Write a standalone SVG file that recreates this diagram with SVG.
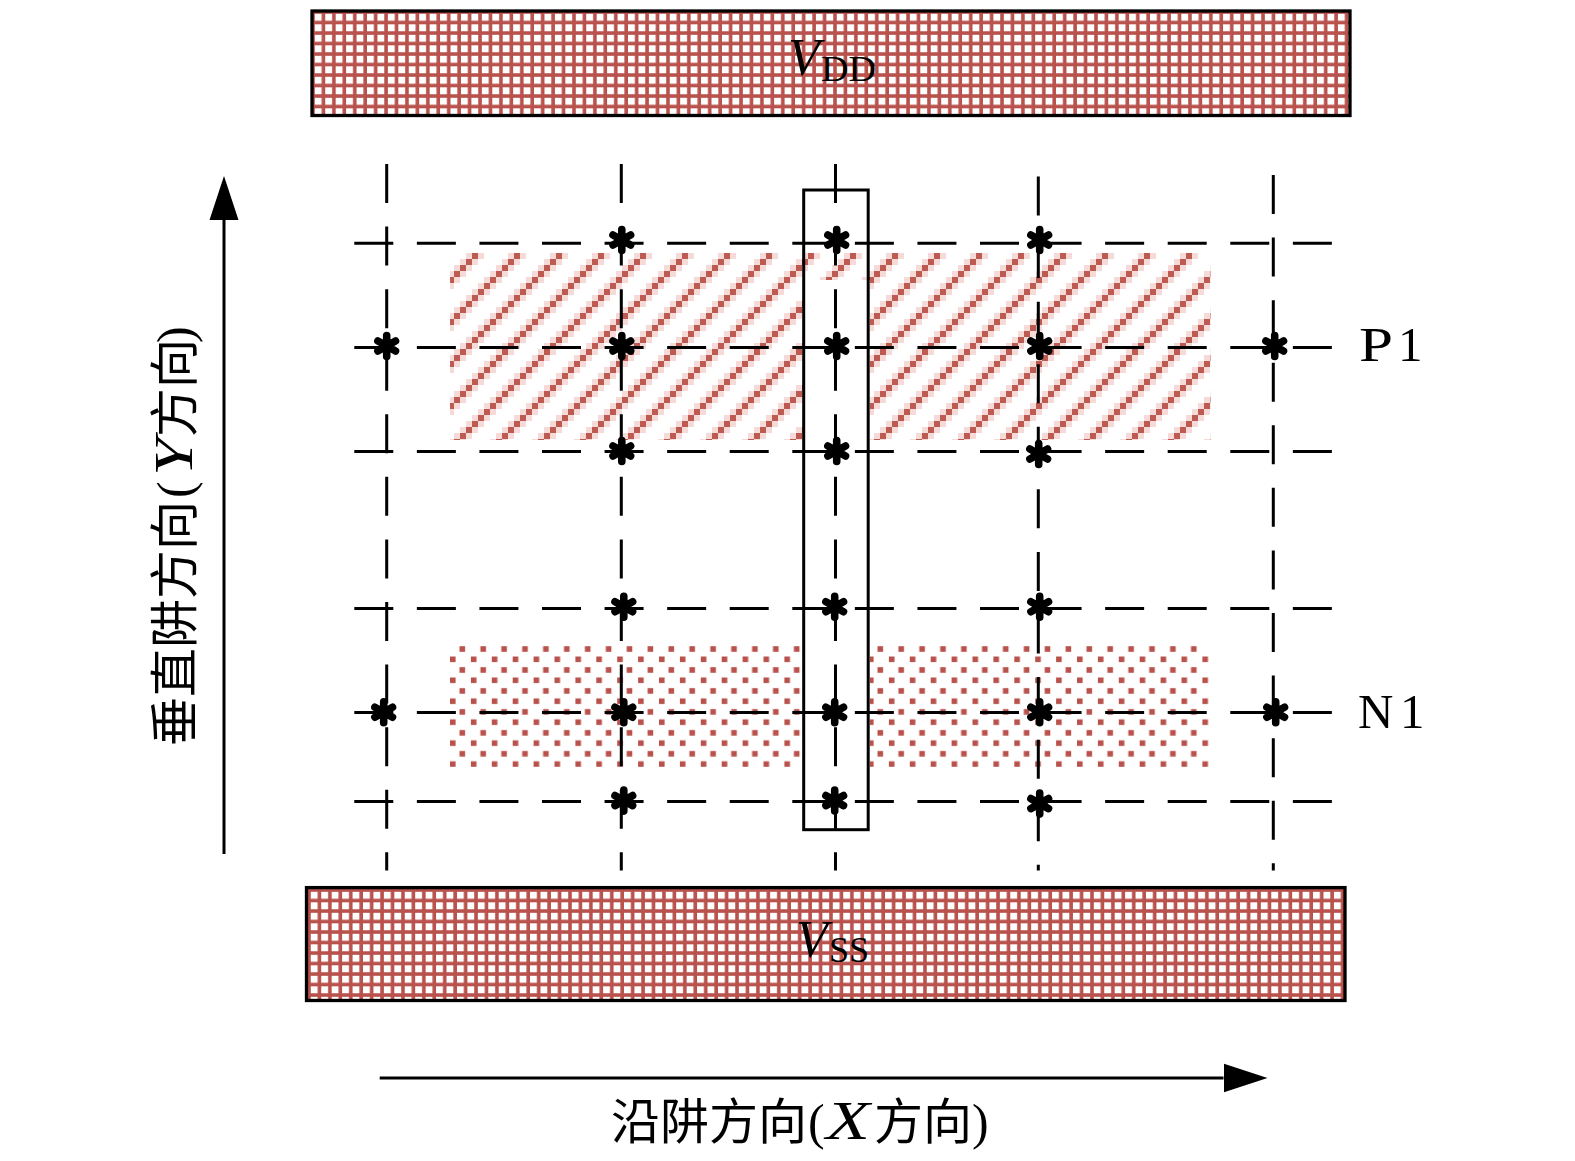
<svg xmlns="http://www.w3.org/2000/svg" xmlns:xlink="http://www.w3.org/1999/xlink" width="1575" height="1161" viewBox="0 0 1575 1161">
<style>
.rail{stroke:#000;stroke-width:3.3;}
.dash{fill:none;stroke:#000;stroke-width:3;stroke-dasharray:39 23.57;}
.solid{fill:none;stroke:#000;stroke-width:3;}
.tx{font-family:"Liberation Serif","Noto Sans CJK SC",serif;fill:#000;}
.cjk{font-family:"Noto Sans CJK SC","Liberation Serif",serif;fill:#000;font-size:49px;}
</style>
<defs>
<pattern id="grid" width="10.44" height="10.5" patternUnits="userSpaceOnUse" x="311" y="10">
<rect width="10.44" height="10.5" fill="#fff"/>
<path d="M0 2H10.44M2 0V10.5" stroke="#b9524c" stroke-width="3.6" fill="none"/>
</pattern>
<pattern id="grid2" width="10.44" height="10.5" patternUnits="userSpaceOnUse" x="307" y="888">
<rect width="10.44" height="10.5" fill="#fff"/>
<path d="M0 2H10.44M2 0V10.5" stroke="#b9524c" stroke-width="3.6" fill="none"/>
</pattern>
<pattern id="hatch" width="42" height="42" patternUnits="userSpaceOnUse" x="448" y="253">
<path shape-rendering="crispEdges" fill="#f5dad7" d="M6 24h6v6h-6zM12 18h6v6h-6zM18 12h6v6h-6zM24 6h6v6h-6zM30 0h6v6h-6zM36 36h6v6h-6zM0 30h6v6h-6zM0 18h6v6h-6zM6 12h6v6h-6zM12 6h6v6h-6zM18 0h6v6h-6zM24 36h6v6h-6zM30 30h6v6h-6zM36 24h6v6h-6z"/>
<path shape-rendering="crispEdges" fill="#bd5a52" d="M0 24h6v6h-6zM6 18h6v6h-6zM12 12h6v6h-6zM18 6h6v6h-6zM24 0h6v6h-6zM30 36h6v6h-6zM36 30h6v6h-6z"/>
</pattern>
<pattern id="dots" width="20.9" height="20.96" patternUnits="userSpaceOnUse" x="450" y="646">
<rect x="9.5" y="0.2" width="5.6" height="5.6" fill="#b9524c"/>
<rect x="0" y="10.5" width="5.6" height="5.6" fill="#b9524c"/>
</pattern>
<g id="star">
<path d="M0-10.500V10.500M-8.800-5L8.800 5M-8.800 5L8.800-5" stroke="#000" stroke-width="7.600" stroke-linecap="round" fill="none"/>
<circle r="6.500" fill="#000"/>
</g>
<marker id="head" markerUnits="userSpaceOnUse" markerWidth="44" markerHeight="30" refX="0" refY="15" orient="auto">
<path d="M0 0.500L44 15L0 29.500Z" fill="#000"/>
</marker>
</defs>
<rect width="1575" height="1161" fill="#fff"/>

<g id="region-p1"><rect x="450" y="253" width="760.500" height="187" fill="url(#hatch)"/></g>
<g id="region-n1"><rect x="450" y="646" width="760.500" height="121" fill="url(#dots)"/></g>

<g id="gate"><rect x="804" y="280" width="66" height="550" fill="#fff"/></g>

<g id="connectors">
<path class="dash" d="M354.300 243.300H1332"/>
<path class="dash" d="M354.300 347.400H1332"/>
<path class="dash" d="M354.300 451.400H1332"/>
<path class="dash" d="M354.300 608.600H1332"/>
<path class="dash" d="M354.300 712.500H1332"/>
<path class="dash" d="M354.300 801.400H1332"/>
<path class="dash" d="M386.700 164V870.500"/>
<path class="dash" d="M621.300 164V870.500"/>
<path class="dash" d="M835.500 164V870.500"/>
<path class="dash" d="M1038.300 176.500V870.500"/>
<path class="dash" d="M1273.300 175V870.500"/>
<path class="solid" d="M224 854V220" marker-end="url(#head)"/>
<path class="solid" d="M379.700 1078H1223.500" marker-end="url(#head)"/>
</g>
<g id="gate-outline"><rect class="solid" x="803.700" y="190" width="64.500" height="639.700"/></g>

<g id="stars">
<use xlink:href="#star" href="#star" x="621.800" y="240"/>
<use xlink:href="#star" href="#star" x="836.700" y="240"/>
<use xlink:href="#star" href="#star" x="1039.700" y="240"/>
<use xlink:href="#star" href="#star" x="386.700" y="346"/>
<use xlink:href="#star" href="#star" x="621.800" y="346"/>
<use xlink:href="#star" href="#star" x="836.700" y="346"/>
<use xlink:href="#star" href="#star" x="1039.700" y="346"/>
<use xlink:href="#star" href="#star" x="1274.700" y="346"/>
<use xlink:href="#star" href="#star" x="621.800" y="451"/>
<use xlink:href="#star" href="#star" x="836.700" y="451"/>
<use xlink:href="#star" href="#star" x="1038.700" y="454"/>
<use xlink:href="#star" href="#star" x="623.800" y="606.700"/>
<use xlink:href="#star" href="#star" x="834.700" y="606.700"/>
<use xlink:href="#star" href="#star" x="1039.700" y="606.700"/>
<use xlink:href="#star" href="#star" x="383.700" y="712.200"/>
<use xlink:href="#star" href="#star" x="623.800" y="712.200"/>
<use xlink:href="#star" href="#star" x="834.700" y="712.200"/>
<use xlink:href="#star" href="#star" x="1039.700" y="712.200"/>
<use xlink:href="#star" href="#star" x="1275.700" y="712.200"/>
<use xlink:href="#star" href="#star" x="623.800" y="800.600"/>
<use xlink:href="#star" href="#star" x="834.700" y="800.600"/>
<use xlink:href="#star" href="#star" x="1039.700" y="803.600"/>
</g>

<g id="vdd">
<rect class="rail" x="312" y="11" width="1038" height="104.500" fill="url(#grid)"/>
<text class="tx" x="788" y="75" font-size="52" font-style="italic">V</text>
<text class="tx" x="821" y="81" font-size="36" textLength="55" lengthAdjust="spacingAndGlyphs">DD</text>
</g>
<g id="vss">
<rect class="rail" x="306.500" y="887.600" width="1038.500" height="112.900" fill="url(#grid2)"/>
<text class="tx" x="796" y="957" font-size="52" font-style="italic">V</text>
<text class="tx" x="829" y="962" font-size="36">SS</text>
</g>
<g id="label-p1">
<text class="tx" x="1359" y="361" font-size="49" textLength="34" lengthAdjust="spacingAndGlyphs">P</text>
<text class="tx" x="1398" y="361" font-size="49">1</text>
</g>
<g id="label-n1">
<text class="tx" x="1358" y="728" font-size="49">N</text>
<text class="tx" x="1400" y="728" font-size="49">1</text>
</g>
<g id="label-x">
<text class="cjk" x="611" y="1139">沿阱方向</text>
<text class="tx" x="808" y="1139" font-size="50">(</text>
<text class="tx" x="826" y="1139" font-size="54" font-style="italic" textLength="44" lengthAdjust="spacingAndGlyphs">X</text>
<text class="cjk" x="874" y="1139">方向</text>
<text class="tx" x="972" y="1139" font-size="50">)</text>
</g>
<g id="label-y" transform="translate(192 746) rotate(-90)">
<text class="cjk" x="0" y="0">垂直阱方向</text>
<text class="tx" x="248" y="0" font-size="50">(</text>
<text class="tx" x="270" y="0" font-size="54" font-style="italic" textLength="38" lengthAdjust="spacingAndGlyphs">Y</text>
<text class="cjk" x="309" y="0">方向</text>
<text class="tx" x="403" y="0" font-size="50">)</text>
</g>
</svg>
